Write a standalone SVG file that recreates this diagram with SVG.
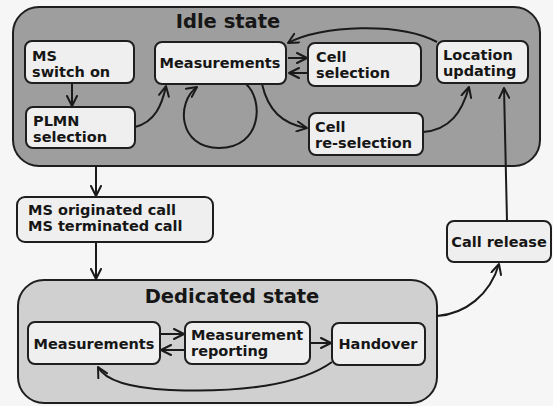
<svg xmlns="http://www.w3.org/2000/svg" width="553" height="406" viewBox="0 0 553 406">
  <defs>
    <marker id="arrow" viewBox="0 0 12 12" refX="11" refY="6" markerWidth="12" markerHeight="12" markerUnits="userSpaceOnUse" orient="auto">
      <path d="M1,1 L11,6 L1,11" fill="none" stroke="#1a1a1a" stroke-width="2" stroke-linecap="round" stroke-linejoin="round"/>
    </marker>
  </defs>
  <style>
    .state { stroke: #1e1e1e; stroke-width: 2; }
    .idle { fill: #9e9e9e; }
    .ded { fill: #d0d0d0; }
    .box { fill: #efefef; stroke: #1e1e1e; stroke-width: 2; }
    .t { font-family: "DejaVu Sans", "Liberation Sans", sans-serif; font-weight: bold; font-size: 14.5px; fill: #161616; }
    .title { font-family: "DejaVu Sans", "Liberation Sans", sans-serif; font-weight: bold; font-size: 19.5px; fill: #161616; }
    .c { fill: none; stroke: #1a1a1a; stroke-width: 2; marker-end: url(#arrow); }
  </style>
  <rect width="553" height="406" fill="#f6f6f6"/>

  <!-- state regions -->
  <g id="idle-state">
    <rect class="state idle" x="13" y="7" width="527" height="159" rx="26"/>
    <text class="title" x="228" y="28" text-anchor="middle">Idle state</text>
  </g>
  <g id="dedicated-state">
    <rect class="state ded" x="18" y="280" width="419" height="123" rx="26"/>
    <text class="title" x="232" y="303" text-anchor="middle">Dedicated state</text>
  </g>

  <!-- connectors -->
  <g id="connectors">
    <path class="c" d="M72,83 L72,106"/>
    <path class="c" d="M135,127 C155,122 162,105 166,86"/>
    <path class="c" d="M246,84 C264,100 262,148 219,148 C178,148 176,102 197,87"/>
    <path class="c" d="M262,84 C268,110 282,124 307,128"/>
    <path class="c" d="M288,58 L307,58"/>
    <path class="c" d="M307,73 L289,73"/>
    <path class="c" d="M423,132 C450,130 462,112 469,87"/>
    <path class="c" d="M437,42 C400,22 320,25 288,43"/>
    <path class="c" d="M507,221 L504,88"/>
    <path class="c" d="M96,166 L96,196"/>
    <path class="c" d="M96,242 L96,279"/>
    <path class="c" d="M437,316 C465,314 490,295 499,264"/>
    <path class="c" d="M160,334 L184,334"/>
    <path class="c" d="M184,350 L161,350"/>
    <path class="c" d="M310,343 L331,343"/>
    <path class="c" d="M332,362 C300,385 240,393 170,390 C130,388 105,380 98,367"/>
  </g>

  <!-- idle state nodes -->
  <g id="ms-switch-on">
    <rect class="box" x="25" y="41" width="109" height="42" rx="7"/>
    <text class="t" x="32" y="61">MS</text>
    <text class="t" x="32" y="77">switch on</text>
  </g>
  <g id="plmn-selection">
    <rect class="box" x="26" y="107" width="109" height="41" rx="7"/>
    <text class="t" x="33" y="126">PLMN</text>
    <text class="t" x="33" y="142">selection</text>
  </g>
  <g id="measurements-idle">
    <rect class="box" x="155" y="42" width="131" height="42" rx="7"/>
    <text class="t" x="220" y="68" text-anchor="middle">Measurements</text>
  </g>
  <g id="cell-selection">
    <rect class="box" x="308" y="43" width="113" height="43" rx="7"/>
    <text class="t" x="316" y="62">Cell</text>
    <text class="t" x="316" y="78">selection</text>
  </g>
  <g id="location-updating">
    <rect class="box" x="437" y="41" width="91" height="42" rx="7"/>
    <text class="t" x="443" y="60">Location</text>
    <text class="t" x="443" y="76">updating</text>
  </g>
  <g id="cell-reselection">
    <rect class="box" x="309" y="113" width="114" height="42" rx="7"/>
    <text class="t" x="315" y="132">Cell</text>
    <text class="t" x="315" y="148">re-selection</text>
  </g>

  <!-- transition nodes -->
  <g id="call-setup">
    <rect class="box" x="17" y="197" width="196" height="45" rx="8"/>
    <text class="t" x="28" y="215">MS originated call</text>
    <text class="t" x="28" y="231">MS terminated call</text>
  </g>
  <g id="call-release">
    <rect class="box" x="447" y="221" width="104" height="41" rx="7"/>
    <text class="t" x="499" y="247" text-anchor="middle">Call release</text>
  </g>

  <!-- dedicated state nodes -->
  <g id="measurements-dedicated">
    <rect class="box" x="28" y="322" width="132" height="42" rx="7"/>
    <text class="t" x="94" y="349" text-anchor="middle">Measurements</text>
  </g>
  <g id="measurement-reporting">
    <rect class="box" x="185" y="322" width="125" height="42" rx="7"/>
    <text class="t" x="191" y="340">Measurement</text>
    <text class="t" x="191" y="356">reporting</text>
  </g>
  <g id="handover">
    <rect class="box" x="332" y="323" width="93" height="42" rx="7"/>
    <text class="t" x="378" y="349" text-anchor="middle">Handover</text>
  </g>
</svg>
